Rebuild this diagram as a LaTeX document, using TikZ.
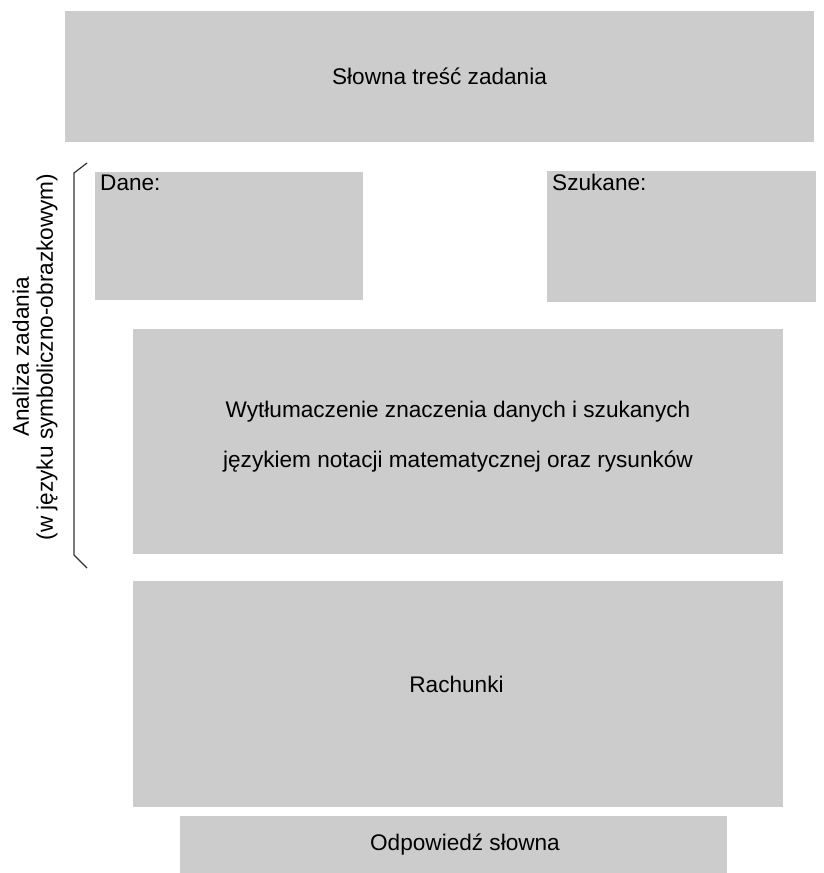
\documentclass[tikz,border=0pt]{standalone}
\usepackage{fontspec}
\setmainfont{Liberation Sans}
\usepackage{tikz}

\begin{document}
\begin{tikzpicture}[x=1pt, y=-1pt,
  pole/.style={fill=black!20, inner sep=0pt, outer sep=0pt, font=\fontsize{22.6}{27}\selectfont},
  napis/.style={anchor=north west, inner sep=3pt, font=\fontsize{22.6}{27}\selectfont}]
\useasboundingbox (0,0) rectangle (824,873);

\node[pole, minimum width=749, minimum height=131] (tresc) at (439.5,76.5) {Słowna treść zadania};

\node[pole, minimum width=268, minimum height=128] (dane) at (229,236) {};
\node[napis, xshift=2] (daneT) at (dane.north west) {Dane:};
\node[pole, minimum width=269, minimum height=131] (szukane) at (681.5,236.5) {};
\node[napis, xshift=2] (szukaneT) at (szukane.north west) {Szukane:};

\node[pole, minimum width=650, minimum height=225] (tlum) at (458,441.5) {};
\node[align=center, font=\fontsize{22.6}{50}\selectfont] (tlumT) at (458,437)
  {Wytłumaczenie znaczenia danych i szukanych\\językiem notacji matematycznej oraz rysunków};

\node[pole, minimum width=650, minimum height=226] (rach) at (458,694) {};
\node[font=\fontsize{22.6}{27}\selectfont] (rachT) at (456.5,684) {Rachunki};

\node[pole, minimum width=547, minimum height=57] (odp) at (453.5,844.5) {};
\node[font=\fontsize{22.6}{27}\selectfont] (odpT) at (465,845) {Odpowiedź słowna};

% klamra
\draw[line width=1.2pt, black!80] (87,163) -- (74,173) -- (74,555) -- (87,568);
\node[rotate=90, align=center, font=\fontsize{22.6}{24}\selectfont] (analiza) at (35,357)
  {Analiza zadania\\(w języku symboliczno-obrazkowym)};
\end{tikzpicture}
\end{document}
